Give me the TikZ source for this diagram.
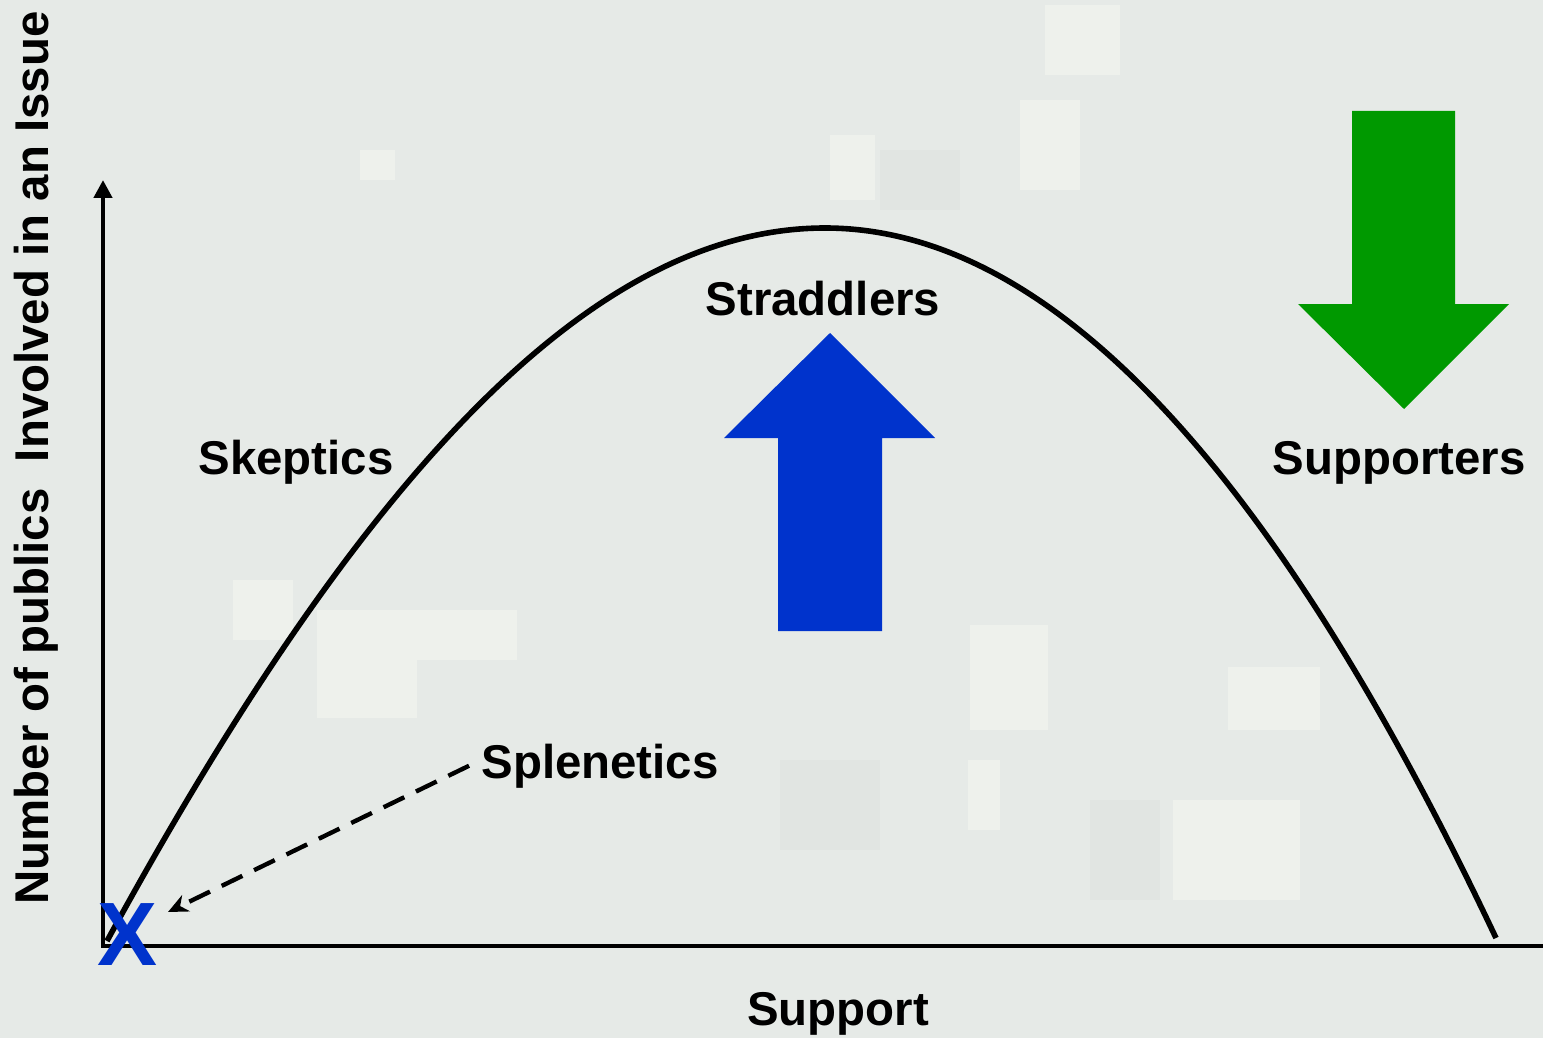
\documentclass[tikz,border=0pt]{standalone}
\usepackage{fontspec}
\setmainfont{Liberation Sans}
\usetikzlibrary{arrows.meta}

\definecolor{camo}{RGB}{230,234,231}
\definecolor{camolight}{RGB}{238,241,236}
\definecolor{camodark}{RGB}{225,229,226}
\definecolor{pushblue}{RGB}{0,51,204}
\definecolor{pushgreen}{RGB}{0,153,0}

\tikzset{
  lbl/.style={font=\fontsize{23.7}{28}\selectfont\bfseries, anchor=base, inner sep=0pt},
  axisline/.style={line width=2.2pt, line join=miter},
  bellcurve/.style={line width=2.8pt},
  hint/.style={line width=2.2pt, dash pattern=on 11.5pt off 6.5pt, -{Stealth[length=10pt,width=9pt]}}
}

\begin{document}
\begin{tikzpicture}[x=0.5pt,y=-0.5pt]

\newcommand\AX{946}

  %% background
  \fill[camo] (0,0) rectangle (1543,1038);
  \useasboundingbox (0,0) rectangle (1543,1038);
  \fill[camolight] (233,580) rectangle (293,640);
  \fill[camolight] (317,610) rectangle (517,660);
  \fill[camolight] (317,640) rectangle (417,718);
  \fill[camolight] (1045,5) rectangle (1120,75);
  \fill[camolight] (1020,100) rectangle (1080,190);
  \fill[camolight] (830,135) rectangle (875,200);
  \fill[camolight] (970,625) rectangle (1048,730);
  \fill[camolight] (1228,667) rectangle (1320,730);
  \fill[camolight] (1173,800) rectangle (1300,900);
  \fill[camolight] (968,760) rectangle (1000,830);
  \fill[camolight] (360,150) rectangle (395,180);
  \fill[camodark] (1090,800) rectangle (1160,900);
  \fill[camodark] (780,760) rectangle (880,850);
  \fill[camodark] (880,150) rectangle (960,210);

  %% axes
  \coordinate (ytop) at (103,180);
  \coordinate (origin) at (103,\AX);
  \coordinate (xend) at (1543,\AX);
  \draw[axisline, {Triangle[length=9pt,width=9pt]}-] (ytop) -- (origin) -- (xend);

  %% curve
  \coordinate (c0) at (107,941);
  \coordinate (peak) at (825,228);
  \coordinate (c1) at (1496,938);
  \draw[bellcurve] (c0) .. controls (365,468) and (595,228) .. (peak)
    .. controls (1048.7,228) and (1272.3,464.7) .. (c1);

  %% block arrows
  \fill[pushblue] (830,333) -- (935,438) -- (882,438) -- (882,631)
    -- (778,631) -- (778,438) -- (724,438) -- cycle; %% straddlers
  \fill[pushgreen] (1352,111) -- (1455,111) -- (1455,304) -- (1509,304)
    -- (1404,409) -- (1298,304) -- (1352,304) -- cycle; %% supporters

  %% labels
  \node[lbl] (straddlers) at (823,315) {Straddlers};
  \node[lbl] (skeptics) at (296,474) {Skeptics};
  \node[lbl] (supporters) at (1399,474) {Supporters};
  \node[lbl] (splen) at (600,778) {Splenetics};
  \node[lbl] (support) at (838,1025) {Support};
  \node[lbl, rotate=90] (ylabel) at (48,458) {Number of publics\ \ Involved in an Issue};
  \node[inner sep=0pt, text=pushblue, font=\fontsize{45}{50}\selectfont\bfseries]
    (xmark) at (128,935) {X};

  %% splenetics pointer
  \coordinate (xhint) at (168,912);
  \draw[hint] ([xshift=-6pt]splen.west) -- (xhint);

\end{tikzpicture}
\end{document}
